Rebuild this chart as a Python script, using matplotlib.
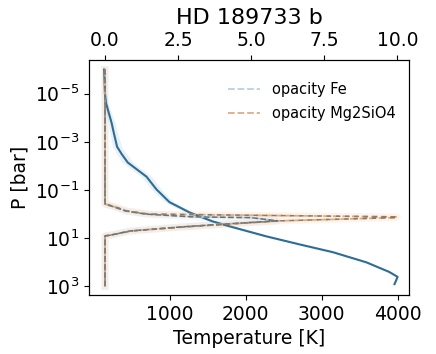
import numpy as np
import matplotlib.pyplot as plt

# temperature-pressure profile
pressure = [1e-6, 1e-5, 2.5e-5, 1.6e-4, 4e-4, 1.6e-3, 3.2e-3, 7.2e-3, 0.028, 0.095, 0.32, 0.85, 2.0, 3.2, 8.3, 18, 38, 100, 250, 400, 800]
temperature = [140, 150, 165, 237, 265, 310, 370, 450, 697, 829, 1000, 1263, 1566, 1789, 2270, 2710, 3150, 3590, 3890, 4000, 3960]
t_spread = [15, 20, 25, 45, 50, 60, 65, 70, 70, 65, 60, 55, 50, 45, 40, 35, 30, 20, 15, 10, 10]

# cloud opacity profiles (top axis)
p_opac = [1e-6, 1e-4, 1e-2, 0.38, 0.5, 0.74, 1.0, 1.3, 1.4, 1.9, 2.5, 3.4, 5.0, 7.5, 8.0, 100, 1000]
opac_fe = [0, 0, 0, 0, 0.3, 0.7, 1.4, 3.0, 5.0, 5.9, 4.3, 2.6, 0.85, 0.17, 0, 0, 0]
opac_mg2sio4 = [0, 0, 0, 0, 0.35, 0.75, 1.5, 10.0, 9.9, 6.0, 4.4, 2.7, 0.9, 0.17, 0, 0, 0]

fig = plt.figure(figsize=(4.36, 3.54), dpi=100)
ax = fig.add_axes([0.204, 0.167, 0.734, 0.664])

t = np.array(temperature)
s = np.array(t_spread)
ax.fill_betweenx(pressure, t - s, t + s, color='C0', alpha=0.1, lw=0)
ax.plot(temperature, pressure, color='#2e6d93', lw=1.5)
ax.set_yscale('log')
ax.set_ylim(10**3.35, 10**-6.4)
ax.set_yticks([1e-5, 1e-3, 1e-1, 1e1, 1e3])
ax.yaxis.set_minor_locator(plt.NullLocator())
ax.set_xlim(-60, 4150)
ax.set_xticks([1000, 2000, 3000, 4000])
ax.set_xlabel('Temperature [K]', fontsize=13.5)
ax.set_ylabel('P [bar]', fontsize=13.5)
ax.tick_params(labelsize=13.5)

ax2 = ax.twiny()
ax2.plot(opac_mg2sio4, p_opac, color='C1', lw=5, alpha=0.08)
ax2.plot(opac_fe, p_opac, color='C0', lw=5, alpha=0.05)
ax2.plot(opac_fe, p_opac, ls='--', color='#b5d3dc', lw=1.3, label='opacity Fe')
ax2.plot(opac_mg2sio4, p_opac, ls='--', color='#dcae85', lw=1.3, label='opacity Mg2SiO4')
ax2.plot(opac_fe, p_opac, ls='--', color='#65727a', lw=1.1)
ax2.plot(opac_mg2sio4, p_opac, ls='--', color='#8f7a66', lw=1.1, dashes=(3, 3))
ax2.set_xlim(-0.55, 10.4)
ax2.set_xticks([0, 2.5, 5, 7.5, 10])
ax2.set_xticklabels(['0.0', '2.5', '5.0', '7.5', '10.0'])
ax2.tick_params(labelsize=13.5)
ax2.yaxis.set_visible(False)
ax2.legend(loc='upper right', fontsize=10.5, frameon=False, bbox_to_anchor=(1.0, 0.96),
           handlelength=2.2, labelspacing=0.6)
ax2.set_title('HD 189733 b', fontsize=16, pad=5)

fig.savefig('out.png', dpi=100)
